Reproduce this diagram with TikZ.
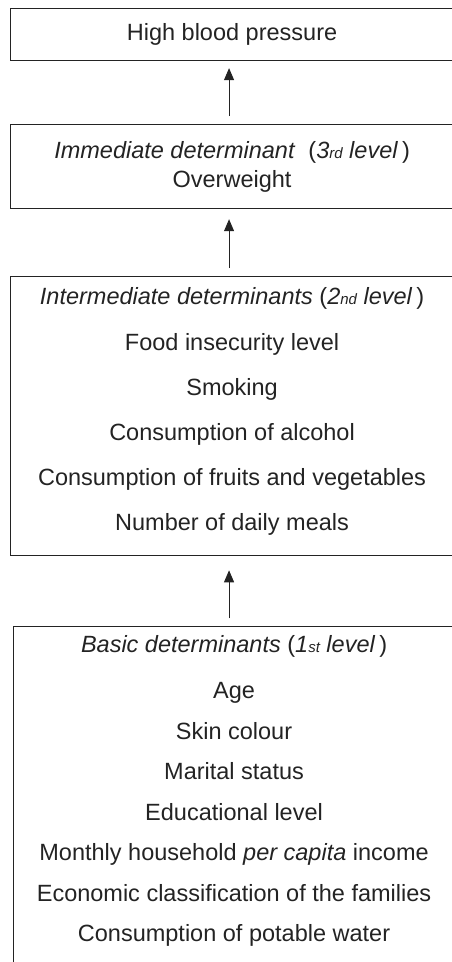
\documentclass[tikz,border=0pt]{standalone}
\usepackage{fontspec}
\setmainfont{Liberation Sans}
\usetikzlibrary{positioning,arrows.meta}
\definecolor{inkgray}{RGB}{35,35,35}

% small ordinal suffix, set on the baseline
\newcommand{\ord}[1]{{\fontsize{15}{15}\selectfont #1}}
% extra room below the last line of a list
\newcommand{\listend}[1]{\rule[-#1]{0pt}{#1}}

\begin{document}
\begin{tikzpicture}[
    x=1pt, y=1pt,
    level/.style={rectangle, draw=inkgray, line width=1.1pt, text=inkgray, minimum width=443pt, inner sep=0pt, align=center, font=\fontsize{23.5}{29}\selectfont},
    up/.style={-{Triangle[width=10pt,length=12pt]}, line width=0.9pt, draw=inkgray, shorten <=8pt}
]
    \useasboundingbox (0,0) rectangle (452,-962);
    \clip (0,0) rectangle (452,-962);

    % outcome and the three levels of determinants
    \node[level, minimum height=52pt, anchor=north west] (hbp) at (10,-8) {High blood pressure\listend{3pt}};
    \node[level, minimum height=84pt, below=63pt of hbp] (immediate)
        {\textit{Immediate determinant}\ \ (\textit{3\ord{rd} level}\,)\\Overweight};
    \node[level, minimum height=279pt, below=67pt of immediate, font=\fontsize{23.5}{45}\selectfont] (intermediate)
        {\textit{Intermediate determinants} (\textit{2\ord{nd} level}\,)\\[1pt]
         Food insecurity level\\Smoking\\Consumption of alcohol\\
         Consumption of fruits and vegetables\\Number of daily meals\listend{15pt}};
    \node[level, minimum width=441pt, minimum height=342pt, below=70pt of intermediate, xshift=2pt, font=\fontsize{23.5}{40.5}\selectfont] (basic)
        {\textit{Basic determinants} (\textit{1\ord{st} level}\,)\\[5.5pt]
         Age\\Skin colour\\Marital status\\Educational level\\
         Monthly household \textit{per capita} income\\
         Economic classification of the families\\
         Consumption of potable water\listend{18pt}};

    \draw[up, shorten >=7pt] ([xshift=-3pt]immediate.north) -- ([xshift=-3pt]hbp.south);
    \draw[up, shorten >=10pt] ([xshift=-3pt]intermediate.north) -- ([xshift=-3pt]immediate.south);
    \draw[up, shorten >=14pt] ([xshift=-5pt]basic.north) -- ([xshift=-3pt]intermediate.south);
\end{tikzpicture}
\end{document}
